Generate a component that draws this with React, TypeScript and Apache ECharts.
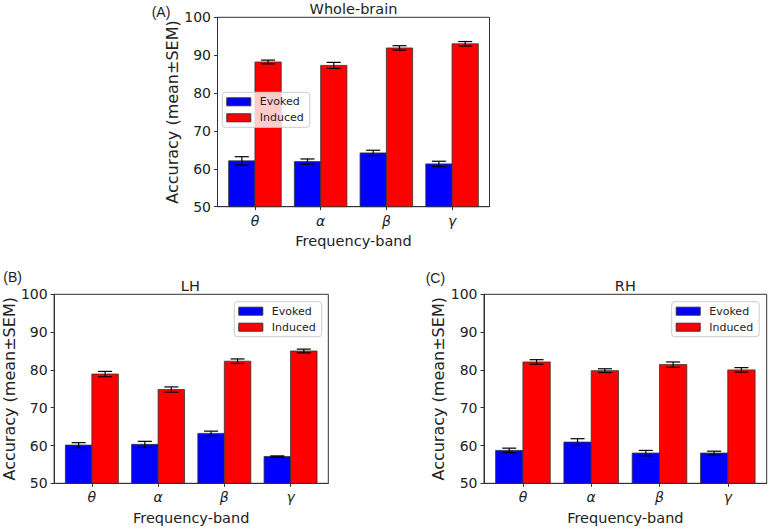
import React, { useEffect, useRef } from "react";
import * as echarts from "echarts";

const categories = ["θ", "α", "β", "γ"];
const seriesNames = ["Evoked", "Induced"];
const tickValues = [0, 1, 2, 3];

// Whole-brain (A)
const wbEvoked = [62.1, 61.9, 64.2, 61.3];
const wbEvokedSem = [1.1, 0.7, 0.7, 0.7];
const wbInduced = [88.2, 87.3, 91.9, 93.0];
const wbInducedSem = [0.5, 0.8, 0.6, 0.6];

// LH (B)
const lhEvoked = [60.1, 60.3, 63.2, 57.1];
const lhEvokedSem = [0.65, 0.8, 0.6, 0.15];
const lhInduced = [78.9, 74.8, 82.3, 85.0];
const lhInducedSem = [0.7, 0.7, 0.6, 0.5];

// RH (C)
const rhEvoked = [58.7, 60.9, 58.0, 58.0];
const rhEvokedSem = [0.6, 0.9, 0.7, 0.5];
const rhInduced = [82.1, 79.8, 81.4, 80.0];
const rhInducedSem = [0.6, 0.5, 0.7, 0.6];

const COLORS = ["#0000ff", "#ff0000"];
const EDGE = "#333333";

const panels = [
  {
    label: "(A)",
    title: "Whole-brain",
    grid: { left: 217.5, top: 17.3, width: 272, height: 189.4 },
    legend: { left: 222.3, top: 92.3 },
    labelPos: [151.7, 11.7],
    evoked: wbEvoked, evokedSem: wbEvokedSem, induced: wbInduced, inducedSem: wbInducedSem,
  },
  {
    label: "(B)",
    title: "LH",
    grid: { left: 52.3, top: 294.3, width: 276, height: 189 },
    legend: { left: 234.3, top: 301.7 },
    labelPos: [3.3, 276.7],
    evoked: lhEvoked, evokedSem: lhEvokedSem, induced: lhInduced, inducedSem: lhInducedSem,
  },
  {
    label: "(C)",
    title: "RH",
    grid: { left: 484, top: 294.3, width: 282.7, height: 189 },
    legend: { left: 671.7, top: 301.7 },
    labelPos: [425.7, 277.7],
    evoked: rhEvoked, evokedSem: rhEvokedSem, induced: rhInduced, inducedSem: rhInducedSem,
  },
];

const FONT = "DejaVu Sans";

function makeRenderItem(offset: number, color: string) {
  return (params: any, api: any) => {
    const x = api.value(0) + offset;
    const y = api.value(1);
    const e = api.value(2);
    const tl = api.coord([x - 0.2, y]);
    const br = api.coord([x + 0.2, 50]);
    const top = api.coord([x, y + e]);
    const bot = api.coord([x, y - e]);
    const cap = 7;
    const lineStyle = { stroke: "#000", lineWidth: 1.2 };
    return {
      type: "group",
      children: [
        {
          type: "rect",
          shape: { x: tl[0], y: tl[1], width: br[0] - tl[0], height: br[1] - tl[1] },
          style: { fill: color, stroke: EDGE, lineWidth: 0.8 },
        },
        { type: "line", shape: { x1: top[0], y1: top[1], x2: bot[0], y2: bot[1] }, style: lineStyle },
        { type: "line", shape: { x1: top[0] - cap, y1: top[1], x2: top[0] + cap, y2: top[1] }, style: lineStyle },
        { type: "line", shape: { x1: bot[0] - cap, y1: bot[1], x2: bot[0] + cap, y2: bot[1] }, style: lineStyle },
      ],
    };
  };
}

export default function App() {
  const ref = useRef<HTMLDivElement>(null);
  useEffect(() => {
    if (!ref.current) return;
    const chart = echarts.init(ref.current, null, { renderer: "svg" });

    const grids: any[] = [];
    const xAxes: any[] = [];
    const yAxes: any[] = [];
    const legends: any[] = [];
    const series: any[] = [];
    const graphics: any[] = [];

    panels.forEach((p, i) => {
      grids.push({ ...p.grid, show: true, borderColor: EDGE, borderWidth: 1, backgroundColor: "transparent" });
      xAxes.push({
        type: "value",
        gridIndex: i,
        min: -0.57,
        max: 3.57,
        name: "Frequency-band",
        nameLocation: "middle",
        nameGap: 27,
        nameTextStyle: { fontFamily: FONT, fontSize: 14.5, color: "#222" },
        axisLine: { show: true, onZero: false, lineStyle: { color: EDGE, width: 1 } },
        axisTick: { show: true, customValues: tickValues, length: 3.5, lineStyle: { color: EDGE } },
        axisLabel: {
          customValues: tickValues,
          formatter: (v: number) => categories[Math.round(v)] ?? "",
          fontFamily: FONT,
          fontSize: 14,
          fontStyle: "italic",
          color: "#222",
          margin: 7,
        },
        splitLine: { show: false },
      });
      yAxes.push({
        type: "value",
        gridIndex: i,
        min: 50,
        max: 100,
        interval: 10,
        name: "Accuracy (mean±SEM)",
        nameLocation: "middle",
        nameGap: 35,
        nameTextStyle: { fontFamily: FONT, fontSize: 16, color: "#222" },
        axisLine: { show: true, onZero: false, lineStyle: { color: EDGE, width: 1 } },
        axisTick: { show: true, length: 3.5, lineStyle: { color: EDGE } },
        axisLabel: { fontFamily: FONT, fontSize: 14, color: "#222", margin: 6.5 },
        splitLine: { show: false },
      });
      legends.push({
        left: p.legend.left,
        top: p.legend.top,
        orient: "vertical",
        icon: "rect",
        itemWidth: 24,
        itemHeight: 8,
        itemGap: 5,
        padding: [4, 6, 4, 4],
        backgroundColor: "rgba(255,255,255,0.8)",
        borderColor: "#cccccc",
        borderWidth: 1,
        borderRadius: 3,
        selectedMode: false,
        textStyle: { fontFamily: FONT, fontSize: 11, color: "#222", padding: [0, 0, 0, 4] },
        data: seriesNames.map((n, k) => ({
          name: n,
          itemStyle: { color: COLORS[k], borderColor: EDGE, borderWidth: 1 },
        })),
      });
      const groups = [
        { vals: p.evoked, sems: p.evokedSem, offset: -0.2 },
        { vals: p.induced, sems: p.inducedSem, offset: 0.2 },
      ];
      groups.forEach((g, k) => {
        series.push({
          type: "custom",
          name: seriesNames[k],
          xAxisIndex: i,
          yAxisIndex: i,
          itemStyle: { color: COLORS[k], borderColor: EDGE, borderWidth: 1 },
          encode: { x: 0, y: 1 },
          data: g.vals.map((v, j) => [j, v, g.sems[j]]),
          renderItem: makeRenderItem(g.offset, COLORS[k]),
        });
      });
      graphics.push({
        type: "text",
        x: p.labelPos[0],
        y: p.labelPos[1],
        style: {
          text: p.label,
          fontFamily: "Liberation Sans",
          fontSize: 14,
          fill: "#222",
          textAlign: "left",
          textVerticalAlign: "middle",
        },
      });
      graphics.push({
        type: "text",
        x: p.grid.left + p.grid.width / 2,
        y: p.grid.top - 8.5,
        style: {
          text: p.title,
          fontFamily: FONT,
          fontSize: 14.5,
          fill: "#222",
          textAlign: "center",
          textVerticalAlign: "middle",
        },
      });
    });

    chart.setOption({
      animation: false,
      backgroundColor: "#ffffff",
      grid: grids,
      xAxis: xAxes,
      yAxis: yAxes,
      legend: legends,
      series,
      graphic: graphics,
    });
    return () => chart.dispose();
  }, []);

  return (
    <div
      ref={ref}
      style={{ position: "fixed", left: 0, top: 0, width: 770, height: 530 }}
    />
  );
}
